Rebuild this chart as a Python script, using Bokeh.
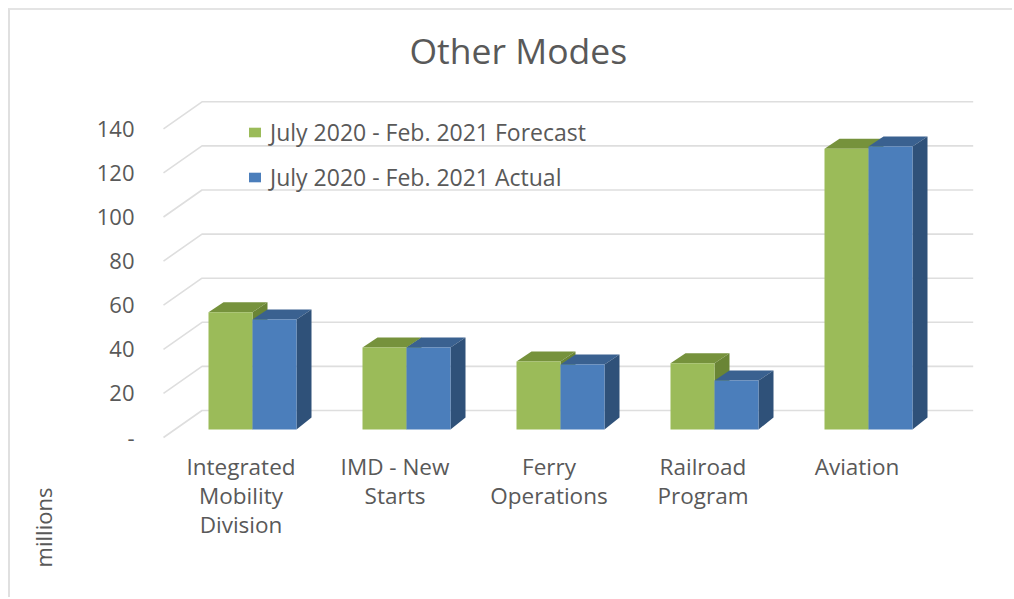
from bokeh.plotting import figure
from bokeh.embed import file_html
from bokeh.resources import INLINE
from bokeh.core.properties import value
from bokeh.models import Range1d, FixedTicker, Legend, LegendItem, Label, ColumnDataSource
import math

categories = ["Integrated\nMobility\nDivision", "IMD - New\nStarts", "Ferry\nOperations", "Railroad\nProgram", "Aviation"]
forecast = [53.2, 37.2, 30.8, 30.0, 127.3]
actual = [49.9, 37.2, 29.5, 22.2, 128.4]
y_ticks = [0, 20, 40, 60, 80, 100, 120, 140]
y_labels = {0: "-", 20: "20", 40: "40", 60: "60", 80: "80", 100: "100", 120: "120", 140: "140"}
series_names = ["July 2020 - Feb. 2021 Forecast", "July 2020 - Feb. 2021 Actual"]

FONT = "Open Sans"
TXT = "#595959"
GRID = "#dedede"
GREEN, GREEN_TOP, GREEN_SIDE = "#9bbb59", "#76923c", "#6a8535"
BLUE, BLUE_TOP, BLUE_SIDE = "#4b7ebb", "#3a6190", "#2f5179"

# page geometry of the frame
ORIGIN = 10
FR_L, FR_R, FR_T, FR_B = 10, 1012, 78, 597
AX_L = 163
PX_Y = 2.205    # px per value unit
PX_X = 154.0    # px per group
ORG_X, ORG_Y = 252.0, 437.0

p = figure(width=FR_R - ORIGIN, height=FR_B - ORIGIN, frame_width=FR_R - FR_L, frame_height=FR_B - FR_T,
           output_backend="svg", toolbar_location=None,
           min_border_left=0, min_border_right=0, min_border_top=FR_T - ORIGIN, min_border_bottom=0,
           x_range=Range1d((FR_L - ORG_X) / PX_X, (FR_R - ORG_X) / PX_X),
           y_range=Range1d((ORG_Y - FR_B) / PX_Y, (ORG_Y - FR_T) / PX_Y),
           title="Other Modes")
p.styles = {"margin": "8px 0 0 8px", "border-top": "2px solid #e4e4e4", "border-left": "2px solid #e0e0e0"}
p.outline_line_color = None
p.grid.visible = False
p.xaxis.visible = False
p.title.align = "left"
p.title.offset = 399
p.title.text_font = FONT
p.title.text_font_size = "35.5px"
p.title.text_font_style = "normal"
p.title.text_color = TXT

LEFT = (AX_L - ORG_X) / PX_X

ax = p.yaxis[0]
ax.fixed_location = LEFT
ax.ticker = FixedTicker(ticks=y_ticks)
ax.major_label_overrides = y_labels
ax.major_tick_line_color = None
ax.minor_tick_line_color = None
ax.axis_line_color = None
ax.major_label_standoff = 23
ax.major_label_text_font = FONT
ax.major_label_text_font_size = "22px"
ax.major_label_text_color = TXT

# floor and gridlines in perspective
DX = 38.5 / PX_X
DY = 27.0 / PX_Y
RIGHT = (972.7 - ORG_X) / PX_X
p.multi_line([[LEFT, LEFT + DX, RIGHT] for _ in y_ticks],
             [[t, t + DY, t + DY] for t in y_ticks],
             line_color=GRID, line_width=1.6)

# bars
HALF = 44.0 / PX_X
FLOOR = 8.0 / PX_Y
BX = 15.0 / PX_X
BY_TOP = 10.0 / PX_Y


def bars(vals, x0s, c_front, c_top, c_side):
    xs = list(x0s)
    tops = [v + FLOOR for v in vals]
    p.patches([[x, x + BX, x + HALF + BX, x + HALF] for x in xs],
              [[t, t + BY_TOP, t + BY_TOP, t] for t in tops],
              fill_color=c_top, line_color=None)
    p.patches([[x + HALF, x + HALF + BX, x + HALF + BX, x + HALF] for x in xs],
              [[t, t + BY_TOP, FLOOR + 12.0 / PX_Y, FLOOR] for t in tops],
              fill_color=c_side, line_color=None)
    return p.quad(left=xs, right=[x + HALF for x in xs], bottom=[FLOOR] * len(xs), top=tops,
                  fill_color=c_front, line_color=None)


idx = list(range(len(categories)))
r1 = bars(forecast, [i - HALF for i in idx], GREEN, GREEN_TOP, GREEN_SIDE)
r2 = bars(actual, idx, BLUE, BLUE_TOP, BLUE_SIDE)

# category labels
src = ColumnDataSource(dict(x=[i - 11.5 / PX_X for i in idx], y=[(ORG_Y - 450) / PX_Y] * len(idx), t=categories))
p.text("x", "y", text="t", source=src, text_align="center", text_baseline="top",
       text_font=value(FONT), text_font_size="22.5px", text_color=TXT, text_line_height=0.95)

legend = Legend(items=[LegendItem(label=series_names[0], renderers=[r1]),
                       LegendItem(label=series_names[1], renderers=[r2])],
                location=(84 + AX_L - FR_L, FR_B - 193), orientation="vertical", background_fill_alpha=0,
                border_line_color=None, padding=0, margin=0, spacing=13,
                glyph_width=15, glyph_height=12, label_standoff=8,
                label_text_font=FONT, label_text_font_size="23px", label_text_color=TXT)
p.add_layout(legend, "center")

p.add_layout(Label(x=42 - FR_L, y=FR_B - 527, x_units="screen", y_units="screen", text="millions", angle=math.pi / 2,
                   text_font=FONT, text_font_size="22px", text_color=TXT, text_align="center", text_baseline="middle"))

open("out.html", "w").write(file_html(p, INLINE))
